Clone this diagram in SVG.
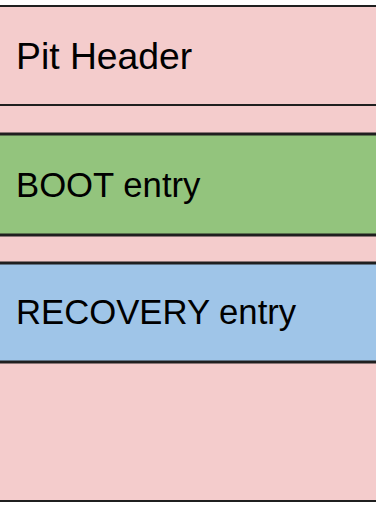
<svg xmlns="http://www.w3.org/2000/svg" width="376" height="505" viewBox="0 0 376 505">
<style>
.box{stroke:#1f1f1f;stroke-width:2}
.entry{stroke:#1f1f1f;stroke-width:3}
.lbl{font-family:"Liberation Sans",Arial,sans-serif;font-size:34.7px;fill:#000}
.hdr{font-size:37.3px}
</style>
<rect width="376" height="505" fill="#ffffff"/>
<g id="pit">
<rect class="box" x="-5" y="6" width="386" height="495" fill="#f4cccc"/>
</g>
<g id="header">
<line class="box" x1="-5" y1="105" x2="381" y2="105"/>
<text class="lbl hdr" x="16" y="69">Pit Header</text>
</g>
<g id="boot">
<rect class="entry" x="-5" y="134" width="386" height="101" fill="#93c47d"/>
<text class="lbl" x="16" y="197">BOOT entry</text>
</g>
<g id="recovery">
<rect class="entry" x="-5" y="263" width="386" height="99" fill="#9fc5e8"/>
<text class="lbl" x="16" y="324">RECOVERY entry</text>
</g>
<g id="connectors"></g>
</svg>
